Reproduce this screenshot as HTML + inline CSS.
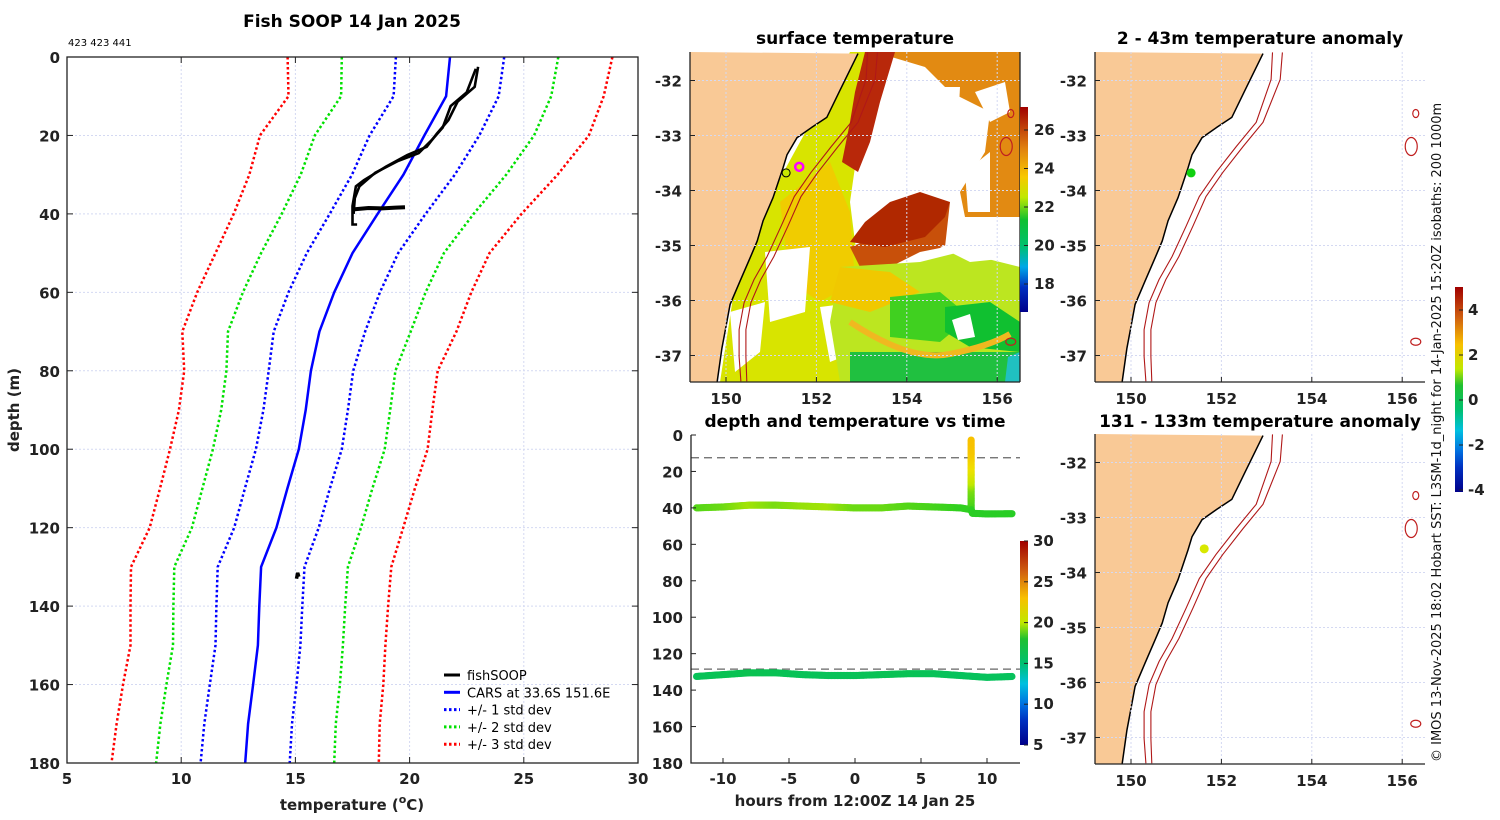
<!DOCTYPE html>
<html><head><meta charset="utf-8"><title>Fish SOOP 14 Jan 2025</title>
<style>
html,body{margin:0;padding:0;background:#fff;}
svg{display:block;font-family:"DejaVu Sans","Liberation Sans",sans-serif;}
.tk{font-weight:bold;font-size:15px;fill:#222;}
.tt{font-weight:bold;font-size:17px;fill:#000;}
</style></head>
<body>
<svg id="fig" width="1500" height="820" viewBox="0 0 1500 820" xmlns="http://www.w3.org/2000/svg">
<defs>
<linearGradient id="cb1" x1="0" y1="1" x2="0" y2="0">
<stop offset="0" stop-color="#00008a"/><stop offset="0.12" stop-color="#0030c0"/><stop offset="0.22" stop-color="#00a8e8"/><stop offset="0.32" stop-color="#00c070"/><stop offset="0.45" stop-color="#10c030"/><stop offset="0.56" stop-color="#c0e800"/><stop offset="0.66" stop-color="#f8c800"/><stop offset="0.8" stop-color="#e08010"/><stop offset="1" stop-color="#a00000"/>
</linearGradient>
<linearGradient id="cb2" x1="0" y1="1" x2="0" y2="0">
<stop offset="0" stop-color="#00008a"/><stop offset="0.12" stop-color="#0030c0"/><stop offset="0.2" stop-color="#0070e0"/><stop offset="0.3" stop-color="#00c0e0"/><stop offset="0.4" stop-color="#00c070"/><stop offset="0.52" stop-color="#20c030"/><stop offset="0.6" stop-color="#c0e800"/><stop offset="0.72" stop-color="#f8c000"/><stop offset="0.85" stop-color="#d06010"/><stop offset="1" stop-color="#a00000"/>
</linearGradient>
<clipPath id="clipM1"><rect x="690" y="52" width="330" height="330"/></clipPath>
<clipPath id="clipM2"><rect x="1095" y="52" width="330" height="330"/></clipPath>
<clipPath id="clipM4"><rect x="1095" y="434" width="330" height="330"/></clipPath>
</defs>

<text class="tt" x="352" y="27" text-anchor="middle">Fish SOOP 14 Jan 2025</text>
<text x="68" y="46" font-size="10" fill="#000">423 423 441</text>
<text class="tk" x="352" y="810" text-anchor="middle" font-size="16">temperature (<tspan font-size="11" dy="-7">o</tspan><tspan dy="7">C)</tspan></text>
<text class="tk" transform="translate(19,410) rotate(-90)" text-anchor="middle" font-size="16">depth (m)</text>
<text class="tt" x="855" y="44" text-anchor="middle">surface temperature</text>
<text class="tt" x="1260" y="44" text-anchor="middle">2 - 43m temperature anomaly</text>
<text class="tt" x="855" y="427" text-anchor="middle">depth and temperature vs time</text>
<text class="tt" x="1260" y="427" text-anchor="middle">131 - 133m temperature anomaly</text>
<text class="tk" x="855" y="806" text-anchor="middle" font-size="16">hours from 12:00Z 14 Jan 25</text>
<text transform="translate(1441,762) rotate(-90)" font-size="13" fill="#111">© IMOS 13-Nov-2025 18:02 Hobart SST: L3SM-1d_night for 14-Jan-2025 15:20Z isobaths: 200  1000m</text>

<g id="gProfile"></g>
<g id="gMap1"></g>
<g id="gMap2"></g>
<g id="gMap4"></g>
<g id="gTime"></g>
</svg>

<script>
const depths = [0,10,20,30,40,50,60,70,80,90,100,110,120,130,140,150,160,170,180];
const carsMean = [21.77,21.6,20.65,19.73,18.6,17.5,16.7,16.05,15.68,15.45,15.15,14.65,14.17,13.5,13.42,13.36,13.15,12.93,12.8];
const carsSd = [2.37,2.3,2.4,2.25,2.1,2.0,2.0,2.0,1.85,1.85,1.88,1.86,1.85,1.9,1.88,1.86,1.9,1.92,1.95];
const fishDownT = [23.0,22.85,22.1,21.7,21.2,20.75,19.9,18.96,18.0,17.65,17.5,17.5,17.7];
const fishDownD = [2.5,7.6,11.4,16.1,19.5,22.9,25,28,31.4,33,38,42.7,42.7];
const fishUpT = [22.9,22.5,21.8,21.45,21.0,20.4,19.5,18.5,17.8,17.6,17.55];
const fishUpD = [3,9,12.5,18,21,24.5,26.5,29.5,33,36,40];
const fishFlatT = [17.6,18.2,18.8,19.4,19.8];
const fishFlatD = [38.8,38.5,38.6,38.4,38.3];
const fishDeepT = [15.05,15.1,15.15];
const fishDeepD = [133,131.5,132.5];
const xTicks = [5,10,15,20,25,30];
const yTicks = [0,20,40,60,80,100,120,140,160,180];

const upperHours = [-12,-10,-8,-6,-4,-2,0,2,4,6,8,8.8];
const upperDepth = [40,39.5,38.5,38.5,39,39.5,40,40,39,39.5,40,41];
const upperTemp = [18.5,18.8,19.6,19,19.4,19.6,18.8,18.8,18.5,18.3,18,18];
const spikeDepth = [41,30,20,10,2];
const spikeTemp = [18,19,21.5,23.5,24];
const afterHours = [8.9,10,12];
const afterDepth = [43,43.3,43.2];
const afterTemp = [17.6,17.5,17.5];
const lowerHours = [-12,-10,-8,-6,-4,-2,0,2,4,6,8,10,12];
const lowerDepth = [132.5,131.5,130.5,130.5,131.5,132,132,131.5,131,131,132,133,132.5];
const lowerTemp = [15.0,15.1,15.2,15.1,15.0,15.0,15.0,15.1,15.1,15.0,14.9,14.9,14.9];
const mixedLayerDepths = [12.5,128.5];
const hourTicks = [-10,-5,0,5,10];

const coastLon = [152.92,152.52,152.23,151.9,151.57,151.35,151.26,151.04,150.82,150.69,150.53,150.31,150.09,149.98,149.91,149.8];
const coastLat = [-31.51,-32.18,-32.67,-32.85,-33.04,-33.35,-33.59,-34.13,-34.55,-34.92,-35.23,-35.65,-36.07,-36.56,-36.87,-37.5];
const iso200Lon = [153.13,153.10,152.77,152.33,151.88,151.51,151.22,150.91,150.62,150.4,150.29,150.29,150.33];
const iso200Lat = [-31.49,-31.98,-32.76,-33.2,-33.67,-34.11,-34.65,-35.2,-35.62,-36.04,-36.53,-37.02,-37.47];
const iso1000Lon = [153.35,153.3,152.92,152.48,152.03,151.66,151.37,151.06,150.77,150.55,150.44,150.44,150.46];
const lonTicks = [150,152,154,156];
const latTicks = [-32,-33,-34,-35,-36,-37];
const fishLon = 151.33, fishLat = -33.68;
const carsLon = 151.62, carsLat = -33.57;
const sstTicks = [26,24,22,20,18];
const tempTicks = [30,25,20,15,10,5];
const anomTicks = [4,2,0,-2,-4];

const NS = "http://www.w3.org/2000/svg";
function mk(tag, attrs, parent){ const e=document.createElementNS(NS,tag); for(const k in attrs) e.setAttribute(k,attrs[k]); parent.appendChild(e); return e; }
function txt(parent, x, y, s, anchor, cls){ const t=mk("text",{x:x,y:y,"text-anchor":anchor||"middle","class":cls||"tk"},parent); t.textContent=s; return t; }

const gP = document.getElementById("gProfile");
const PX0=67, PX1=638, PY0=57, PY1=763;
const px = t => PX0 + (t-5)*(PX1-PX0)/25;
const py = d => PY0 + d*(PY1-PY0)/180;
mk("rect",{x:PX0,y:PY0,width:PX1-PX0,height:PY1-PY0,fill:"#fff"},gP);
xTicks.forEach(t=>{ if(t>5&&t<30){ const l=mk("line",{x1:px(t),x2:px(t),y1:PY0,y2:PY1,stroke:"#d4d9f2","stroke-dasharray":"2,2"},gP);

}
 mk("line",{x1:px(t),x2:px(t),y1:PY1,y2:PY1-6,stroke:"#222"},gP); mk("line",{x1:px(t),x2:px(t),y1:PY0,y2:PY0+6,stroke:"#222"},gP);
 const lb=txt(gP,px(t),784,String(t));
 
 
});
yTicks.forEach(d=>{ if(d>0&&d<180){ const l=mk("line",{x1:PX0,x2:PX1,y1:py(d),y2:py(d),stroke:"#d4d9f2","stroke-dasharray":"2,2"},gP);

}
 mk("line",{x1:PX0,x2:PX0+6,y1:py(d),y2:py(d),stroke:"#222"},gP); mk("line",{x1:PX1,x2:PX1-6,y1:py(d),y2:py(d),stroke:"#222"},gP);
 const lb=txt(gP,60,py(d)+6,String(d),"end");
 
 
});
function profPath(ts, ds){ return ts.map((t,i)=>(i?"L":"M")+px(t).toFixed(1)+","+py(ds[i]).toFixed(1)).join(""); }
const sdColors = {1:"#0000ff",2:"#00e000",3:"#ff0000"};
[3,2,1].forEach(k=>{
  [-1,1].forEach(s=>{
    const ts = carsMean.map((m,i)=>m + s*k*carsSd[i]);
    const p = mk("path",{d:profPath(ts,depths),fill:"none",stroke:sdColors[k],"stroke-width":2.5,"stroke-dasharray":"2.5,2.5"},gP);
    
    
  });
});
const cars = mk("path",{d:profPath(carsMean,depths),fill:"none",stroke:"#0000ff","stroke-width":2.5},gP);


const fd = mk("path",{d:profPath(fishDownT,fishDownD),fill:"none",stroke:"#000","stroke-width":2.6},gP);


const fu = mk("path",{d:profPath(fishUpT,fishUpD),fill:"none",stroke:"#000","stroke-width":2.6},gP);


const ff = mk("path",{d:profPath(fishFlatT,fishFlatD),fill:"none",stroke:"#000","stroke-width":4},gP);


const fdp = mk("path",{d:profPath(fishDeepT,fishDeepD),fill:"none",stroke:"#000","stroke-width":3.5},gP);


mk("rect",{x:PX0,y:PY0,width:PX1-PX0,height:PY1-PY0,fill:"none",stroke:"#222","stroke-width":1.3},gP);
const legItems = [["fishSOOP","#000",""],["CARS at 33.6S 151.6E","#0000ff",""],["+/- 1 std dev","#0000ff","2.5,2.5"],["+/- 2 std dev","#00e000","2.5,2.5"],["+/- 3 std dev","#ff0000","2.5,2.5"]];
legItems.forEach((it,i)=>{
  const y=675+i*17.3;
  const g=mk("g",{},gP);
  
  
  mk("line",{x1:444,x2:460,y1:y,y2:y,stroke:it[1],"stroke-width":3,"stroke-dasharray":it[2]},g);
  const t=mk("text",{x:467,y:y+5,"font-size":13,fill:"#000"},g); t.textContent=it[0];
});

const cmapStops = [[5,[0,0,138]],[8,[0,48,192]],[10,[0,112,224]],[12,[0,192,224]],[14,[0,192,128]],[16,[16,196,48]],[18,[48,208,32]],[20,[192,232,0]],[22,[240,224,0]],[24,[248,192,0]],[26,[224,128,16]],[28,[192,64,0]],[30,[160,0,0]]];
function cmap(v){ for(let i=0;i<cmapStops.length-1;i++){ const a=cmapStops[i],b=cmapStops[i+1]; if(v<=b[0]||i===cmapStops.length-2){ const f=Math.max(0,Math.min(1,(v-a[0])/(b[0]-a[0]))); const c=a[1].map((x,j)=>Math.round(x+(b[1][j]-x)*f)); return "rgb("+c.join(",")+")"; } } }

const gT = document.getElementById("gTime");
const TX0=691, TX1=1020, TY0=435, TY1=763;
const tx = h => 855 + h*13.2;
const ty = d => TY0 + d*(TY1-TY0)/180;
mk("rect",{x:TX0,y:TY0,width:TX1-TX0,height:TY1-TY0,fill:"#fff"},gT);
mixedLayerDepths.forEach(d=>{ const l=mk("line",{x1:TX0,x2:TX1,y1:ty(d),y2:ty(d),stroke:"#666","stroke-width":1.3,"stroke-dasharray":"8,5"},gT);

 });
function dots(hs, ds, ts, name){
  const g=mk("g",{},gT);
  
  
  for(let i=0;i<hs.length-1;i++){
    const n=Math.max(2,Math.ceil(Math.hypot(tx(hs[i+1])-tx(hs[i]),ty(ds[i+1])-ty(ds[i]))/1.5));
    for(let k=0;k<n;k++){ const f=k/n;
      mk("circle",{cx:tx(hs[i]+(hs[i+1]-hs[i])*f),cy:ty(ds[i]+(ds[i+1]-ds[i])*f),r:3.6,fill:cmap(ts[i]+(ts[i+1]-ts[i])*f)},g); }
  }
}
dots(upperHours,upperDepth,upperTemp,"upper-sensor-track");
dots(spikeDepth.map(()=>8.8),spikeDepth,spikeTemp,"surface-spike-track");
dots([8.8].concat(afterHours),[41].concat(afterDepth),[18].concat(afterTemp),"upper-sensor-track-late");
dots(lowerHours,lowerDepth,lowerTemp,"lower-sensor-track");
mk("path",{d:`M${TX0},${TY0}V${TY1}H${TX1}`,fill:"none",stroke:"#222","stroke-width":1.3},gT);
hourTicks.forEach(h=>{ mk("line",{x1:tx(h),x2:tx(h),y1:TY1,y2:TY1-5,stroke:"#222"},gT);
 const lb=txt(gT,tx(h),784,String(h));
 
  });
yTicks.forEach(d=>{ mk("line",{x1:TX0,x2:TX0+5,y1:ty(d),y2:ty(d),stroke:"#222"},gT);
 const lb=txt(gT,683,ty(d)+6,String(d),"end");
 
  });
const cb2=mk("rect",{x:1020,y:541,width:8,height:204,fill:"url(#cb2)"},gT);


tempTicks.forEach(v=>{ const y=745-(v-5)*204/25; mk("line",{x1:1028,x2:1024,y1:y,y2:y,stroke:"#222"},gT); const lb=txt(gT,1033,y+5,String(v),"start"); lb.setAttribute("font-size","13"); });

const mlx = (lon,ox) => ox + 36 + (lon-150)*45.2;
const mly = (lat,oy) => oy + 28.5 + (-32-lat)*55;
function drawMap(g, ox, oy, clip, sst){
  const inner = mk("g",{"clip-path":"url(#"+clip+")"},g);
  mk("rect",{x:ox,y:oy,width:330,height:330,fill:"#fff"},inner);
  if(sst) drawSST(inner, ox, oy);
  let d="M"+ox+","+oy;
  coastLon.forEach((lo,i)=>{ d+="L"+mlx(lo,ox).toFixed(1)+","+mly(coastLat[i],oy).toFixed(1); });
  d+="L"+ox+","+(oy+340)+"Z";
  const land=mk("path",{d:d,fill:"#f9c996",stroke:"none"},inner);
  
  
  let c=""; coastLon.forEach((lo,i)=>{ c+=(i?"L":"M")+mlx(lo,ox).toFixed(1)+","+mly(coastLat[i],oy).toFixed(1); });
  const coast=mk("path",{d:c,fill:"none",stroke:"#000","stroke-width":1.5},inner);
  
  
  lonTicks.forEach(lo=>mk("line",{x1:mlx(lo,ox),x2:mlx(lo,ox),y1:oy,y2:oy+330,stroke:"#d4d9f2","stroke-dasharray":"2,2"},inner));
  latTicks.forEach(la=>mk("line",{x1:ox,x2:ox+330,y1:mly(la,oy),y2:mly(la,oy),stroke:"#d4d9f2","stroke-dasharray":"2,2"},inner));
  [[iso200Lon,"isobath-200m"],[iso1000Lon,"isobath-1000m"]].forEach(([arr,name])=>{
    let p=""; arr.forEach((lo,i)=>{ p+=(i?"L":"M")+mlx(lo,ox).toFixed(1)+","+mly(iso200Lat[i],oy).toFixed(1); });
    const iso=mk("path",{d:p,fill:"none",stroke:"#b01818","stroke-width":1.1},inner);
    
    
  });
  mk("ellipse",{cx:mlx(156.2,ox),cy:mly(-33.2,oy),rx:6,ry:9,fill:"none",stroke:"#c02020","stroke-width":1.2},inner);
  mk("ellipse",{cx:mlx(156.3,ox),cy:mly(-32.6,oy),rx:3,ry:4,fill:"none",stroke:"#c02020","stroke-width":1.2},inner);
  mk("ellipse",{cx:mlx(156.3,ox),cy:mly(-36.75,oy),rx:5,ry:3.5,fill:"none",stroke:"#c02020","stroke-width":1.2},inner);
  mk("path",{d:`M${ox},${oy+330}H${ox+330}`,fill:"none",stroke:"#222","stroke-width":1.3},g);
  mk("path",{d:`M${ox},${oy}V${oy+330}`,fill:"none",stroke:"#222","stroke-width":1.3},g);
  if(sst) mk("path",{d:`M${ox+330},${oy}V${oy+330}`,fill:"none",stroke:"#222","stroke-width":1.3},g);
  lonTicks.forEach(lo=>{ mk("line",{x1:mlx(lo,ox),x2:mlx(lo,ox),y1:oy+330,y2:oy+325,stroke:"#222"},g);
    const lb=txt(g,mlx(lo,ox),oy+352,String(lo));  });
  latTicks.forEach(la=>{ mk("line",{x1:ox,x2:ox+5,y1:mly(la,oy),y2:mly(la,oy),stroke:"#222"},g);
    const lb=txt(g,ox-8,mly(la,oy)+6,String(la),"end");  });
}
function drawSST(g, ox, oy){
  const P = pts => pts.map((p,i)=>(i?"L":"M")+(ox+p[0])+","+(oy+p[1])).join("")+"Z";
  const layers = [
    ["#d8e400",[[30,330],[50,200],[110,90],[160,0],[185,0],[170,80],[160,150],[165,190],[175,240],[175,330]]],
    ["#f0cc00",[[90,150],[140,110],[160,160],[165,230],[130,250],[100,230]]],
    ["#fff",[[75,200],[120,195],[115,260],[80,270]]],
    ["#fff",[[40,260],[75,250],[70,300],[45,320]]],
    ["#fff",[[130,255],[170,250],[165,300],[140,310]]],
    ["#e28a12",[[185,0],[330,0],[330,165],[275,165],[270,140],[295,100],[300,60],[260,40],[235,15]]],
    ["#fff",[[185,35],[270,35],[265,130],[240,150],[200,160],[180,110]]],
    ["#fff",[[285,40],[315,30],[320,60],[300,70]]],
    ["#fff",[[275,120],[300,100],[300,160],[278,160]]],
    ["#b8280a",[[175,0],[205,0],[190,50],[180,90],[168,120],[152,110],[160,70],[165,40]]],
    ["#c8500a",[[160,195],[200,180],[240,165],[260,150],[255,195],[230,200],[200,215],[170,215]]],
    ["#b02800",[[160,190],[195,195],[235,185],[255,165],[260,150],[230,140],[200,150],[175,170]]],
    ["#bce620",[[150,215],[230,210],[270,200],[330,215],[330,330],[150,330],[140,270]]],
    ["#fff",[[250,195],[330,170],[330,205],[280,210]]],
    ["#f0c800",[[150,215],[200,220],[230,240],[180,260],[140,250]]],
    ["#40d020",[[200,245],[250,240],[280,265],[250,290],[200,285]]],
    ["#10c030",[[255,255],[300,250],[330,270],[330,300],[280,295],[255,280]]],
    ["#20c040",[[160,300],[330,300],[330,330],[160,330]]],
    ["#fff",[[262,268],[280,262],[285,285],[268,288]]],
    ["#20c0c0",[[318,305],[330,300],[330,330],[315,330]]]
  ];
  layers.forEach(([col,pts])=>{ mk("path",{d:P(pts),fill:col},g); });
  mk("path",{d:`M${ox+160},${oy+270}Q${ox+220},${oy+310} ${ox+260},${oy+302}T${ox+320},${oy+282}`,fill:"none",stroke:"#f0b820","stroke-width":6},g);
}
const gM1=document.getElementById("gMap1"), gM2=document.getElementById("gMap2"), gM4=document.getElementById("gMap4");
drawMap(gM1,690,52,"clipM1",true);
drawMap(gM2,1095,52,"clipM2",false);
drawMap(gM4,1095,434,"clipM4",false);
const m1a=mk("circle",{cx:mlx(carsLon,690),cy:mly(carsLat,52),r:4,fill:"none",stroke:"#ff00ff","stroke-width":2.5},gM1);


const m1b=mk("circle",{cx:mlx(fishLon,690),cy:mly(fishLat,52),r:4,fill:"#c8e800",stroke:"#000","stroke-width":1},gM1);


const m2=mk("circle",{cx:mlx(fishLon,1095),cy:mly(fishLat,52),r:4.5,fill:"#10d010"},gM2);


const m4=mk("circle",{cx:mlx(carsLon,1095),cy:mly(carsLat,434),r:4.5,fill:"#d8e800"},gM4);


const cb1=mk("rect",{x:1020,y:107,width:8,height:205,fill:"url(#cb1)"},gM1);


sstTicks.forEach(v=>{ const y=130+(26-v)*19.25; mk("line",{x1:1028,x2:1024,y1:y,y2:y,stroke:"#222"},gM1); const lb=txt(gM1,1034,y+5,String(v),"start"); lb.setAttribute("font-size","13"); });
const cb3=mk("rect",{x:1455,y:287,width:8,height:205,fill:"url(#cb2)"},gM2);


anomTicks.forEach(v=>{ const y=400-v*22.5; mk("line",{x1:1463,x2:1459,y1:y,y2:y,stroke:"#222"},gM2); const lb=txt(gM2,1468,y+5,String(v),"start"); lb.setAttribute("font-size","13"); });
</script>
</body></html>
